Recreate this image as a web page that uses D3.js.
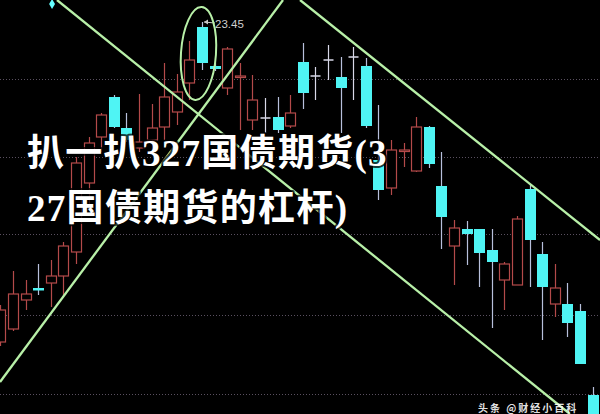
<!DOCTYPE html>
<html><head><meta charset="utf-8">
<script src="https://cdn.jsdelivr.net/npm/d3@7"></script>
<style>html,body{margin:0;padding:0;background:#000;overflow:hidden}svg{display:block}</style>
</head><body>
<svg id="c" width="600" height="414"></svg>
<script>
// ---- data ----
const opens  = [21.85,21.915,22.06,22.12,22.145,22.18,22.30,22.645,22.875,23.075,22.92,22.82,22.86,22.925,23.00,23.145,23.425,23.23,23.12,23.175,22.96,22.97,22.975,22.93,23.25,23.18,23.26,23.175,23.275,23.23,22.76,22.62,22.805,22.705,22.925,22.63,22.33,22.415,22.415,22.31,22.16,22.135,22.615,22.29,22.04,22.04,22.005,21.585];
const highs  = [22.035,22.205,22.16,22.24,22.26,22.35,22.775,22.875,22.995,23.085,22.995,23.09,23.04,23.245,23.19,23.355,23.45,23.245,23.325,23.245,23.185,23.07,23.075,23.085,23.345,23.225,23.335,23.275,23.325,23.27,23.035,22.86,22.845,22.975,22.93,22.80,22.46,22.455,22.415,22.415,22.25,22.48,22.635,22.35,22.24,22.145,22.04,21.625];
const lows   = [21.83,21.905,22.01,22.085,22.025,22.085,22.24,22.51,22.80,22.92,22.85,22.80,22.81,22.86,22.935,23.06,23.21,23.205,23.085,22.91,22.91,22.895,22.895,22.92,23.015,23.06,23.16,22.895,23.06,22.92,22.56,22.585,22.725,22.70,22.72,22.315,22.135,22.235,22.125,21.92,22.01,22.135,22.125,21.86,21.975,21.875,21.74,21.435];
const closes = [22.01,22.09,22.09,22.11,22.18,22.33,22.745,22.845,22.985,22.925,22.86,22.85,22.92,23.075,23.10,23.26,23.245,23.215,23.315,23.18,23.06,22.97,22.91,22.995,23.095,23.18,23.26,23.12,23.275,22.93,22.61,22.81,22.81,22.925,22.74,22.475,22.42,22.39,22.295,22.25,22.24,22.465,22.36,22.125,22.12,21.945,21.74,21.435];
const gridLevels = [23.165, 22.775, 22.39, 21.985, 21.59];
// trend lines: [startIndex, startPrice, endIndex, endPrice]
const trendLines = [
  [4.49, 23.56, 45.2, 21.49],
  [-0.03, 21.65, 22.43, 23.56],
  [23.78, 23.56, 47.59, 22.36]
];
const highLabel = "23.45";
const highIndex = 16;
const circleCenter = [15.72, 23.2925];
const markers = [[4.1, 23.54]];
const titleLines = ["扒一扒327国债期货(3", "27国债期货的杠杆)"];
const watermark = "头条 @财经小百科";

// ---- scales ----
const W = 600, H = 414;
const x = d3.scaleLinear().domain([0, 47]).range([0.4, 592.6]);
const y = d3.scaleLinear().domain([21.49, 23.56]).range([H, 0]);
const svg = d3.select("#c");
svg.append("rect").attr("width", W).attr("height", H).attr("fill", "#000");

// grid
svg.append("g").selectAll("line").data(gridLevels).join("line")
  .attr("x1", 0).attr("x2", W)
  .attr("y1", d => Math.round(y(d)) + 0.5).attr("y2", d => Math.round(y(d)) + 0.5)
  .attr("stroke", "#5a5060").attr("stroke-width", 1).attr("stroke-dasharray", "1 2");

const data = opens.map((o, i) => ({i, o, h: highs[i], l: lows[i], c: closes[i]}));
const UP = "#b44a4a", CY = "#4ff4f4", WK = "#b8c0dc", FLAT = "#d8d8e8";
const bw = 10;
const g = svg.append("g");
data.forEach(d => {
  const cx = Math.round(x(d.i)) + 0.5;
  const yt = y(Math.max(d.o, d.c)), yb = y(Math.min(d.o, d.c));
  if (d.c > d.o) {
    g.append("line").attr("x1", cx).attr("x2", cx).attr("y1", y(d.h)).attr("y2", yt).attr("stroke", UP).attr("stroke-width", 1.2);
    g.append("line").attr("x1", cx).attr("x2", cx).attr("y1", yb).attr("y2", y(d.l)).attr("stroke", UP).attr("stroke-width", 1.2);
    const hh = Math.max(1.5, yb - yt);
    g.append("rect").attr("x", cx - bw/2).attr("y", yt).attr("width", bw).attr("height", hh)
      .attr("fill", "#000").attr("stroke", UP).attr("stroke-width", 1.2);
  } else if (d.c < d.o) {
    g.append("line").attr("x1", cx).attr("x2", cx).attr("y1", y(d.h)).attr("y2", y(d.l)).attr("stroke", WK).attr("stroke-width", 1.2);
    g.append("rect").attr("x", cx - bw/2 - 0.5).attr("y", yt).attr("width", bw + 1).attr("height", Math.max(2.5, yb - yt)).attr("fill", CY);
  } else {
    g.append("line").attr("x1", cx).attr("x2", cx).attr("y1", y(d.h)).attr("y2", y(d.l)).attr("stroke", FLAT).attr("stroke-width", 1.2);
    g.append("line").attr("x1", cx - bw/2).attr("x2", cx + bw/2).attr("y1", yt).attr("y2", yt).attr("stroke", FLAT).attr("stroke-width", 1.5);
  }
});

// markers
svg.selectAll("path.mk").data(markers).join("path").attr("class", "mk")
  .attr("d", d3.symbol(d3.symbolDiamond, 30))
  .attr("transform", d => `translate(${x(d[0])},${y(d[1])})`).attr("fill", "#6ff");

// high label
const hx = x(highIndex), hy = y(highs[highIndex]);
svg.append("line").attr("x1", hx + 2).attr("x2", hx + 13).attr("y1", hy).attr("y2", hy + 1).attr("stroke", "#c8c8c8").attr("stroke-width", 1);
svg.append("path").attr("d", `M${hx+2},${hy} l4,-2.5 l0,5 z`).attr("fill", "#c8c8c8");
svg.append("text").attr("x", hx + 13).attr("y", hy + 6).text(highLabel)
  .attr("font-family", "Liberation Sans, Arial, sans-serif").attr("font-size", 11.5).attr("fill", "#cfcfcf");

// trend lines
svg.append("g").selectAll("line").data(trendLines).join("line")
  .attr("x1", d => x(d[0])).attr("y1", d => y(d[1])).attr("x2", d => x(d[2])).attr("y2", d => y(d[3]))
  .attr("stroke", "#b8f0a8").attr("stroke-width", 2.3);

// ellipse annotation
const ecx = x(circleCenter[0]), ecy = y(circleCenter[1]);
svg.append("ellipse").attr("cx", ecx).attr("cy", ecy).attr("rx", 17.5).attr("ry", 46.5)
  .attr("transform", `rotate(4,${ecx},${ecy})`)
  .attr("fill", "none").attr("stroke", "#b8f0a8").attr("stroke-width", 2);

// title overlay
svg.append("g").selectAll("text").data(titleLines).join("text")
  .attr("x", 27).attr("y", (d, i) => 166 + i * 55).text(d => d)
  .attr("font-family", "'Liberation Serif', 'Noto Sans CJK SC', serif").attr("font-weight", 700)
  .attr("font-size", 37).attr("letter-spacing", 1.3)
  .attr("fill", "#fff").attr("stroke", "#000").attr("stroke-width", 4).attr("stroke-opacity", 0.75)
  .attr("paint-order", "stroke").attr("stroke-linejoin", "round");

// watermark at the bottom edge
svg.append("text").attr("x", 478).attr("y", 412).text(watermark)
  .attr("font-family", "'Noto Sans CJK SC', sans-serif").attr("font-size", 10).attr("font-weight", 700)
  .attr("letter-spacing", 2).attr("fill", "#fff").attr("fill-opacity", 0.9);
</script>
</body></html>
